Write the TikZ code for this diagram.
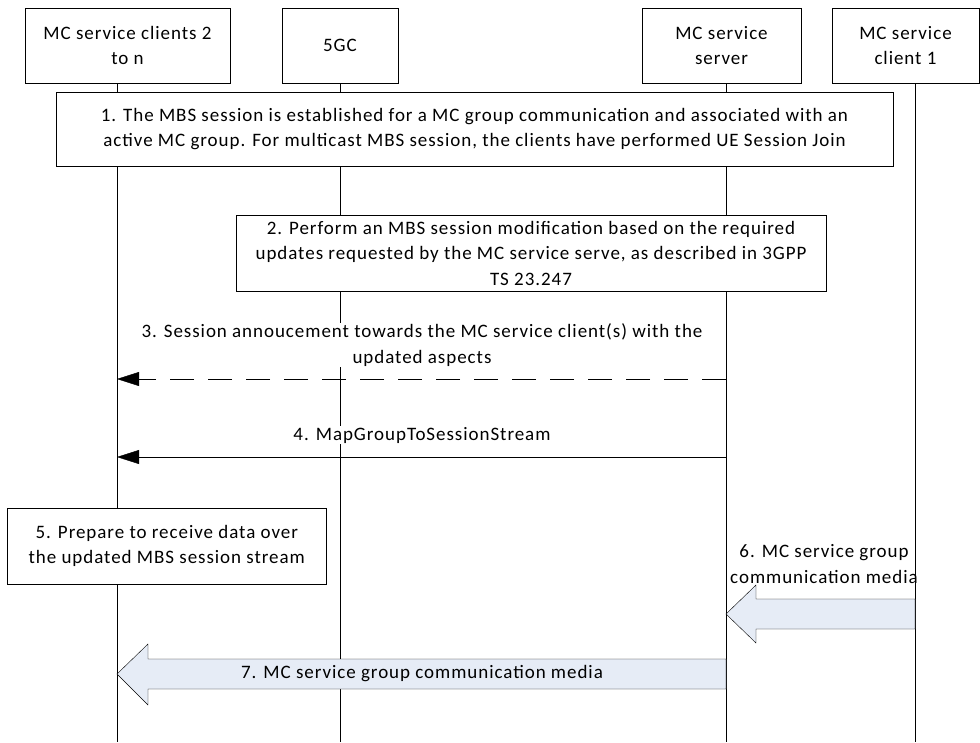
\documentclass[tikz,border=0pt]{standalone}
\usepackage{fontspec}
\setmainfont{Carlito}[LetterSpace=5]
\usetikzlibrary{arrows.meta,positioning}
\definecolor{mediablue}{RGB}{230,236,246}

\begin{document}
\begin{tikzpicture}[x=1pt,y=-1pt,>={Triangle[length=22pt,width=14pt]},
  every node/.style={font=\fontsize{19}{25.5}\selectfont},
  head/.style={draw,fill=white,align=center,minimum height=75pt,inner sep=0pt},
  stepbox/.style={draw,fill=white,align=center,inner sep=0pt},
  msg/.style={fill=white,align=center,inner sep=1pt},
  media/.style={draw,fill=mediablue}]
\useasboundingbox (0,0) rectangle (980,742);
% participants
\node[head,minimum width=205pt] (c2n) at (127.5,45.5) {MC service clients 2\\to n};
\node[head,minimum width=116pt] (fgc) at (340,45.5) {5GC};
\node[head,minimum width=159pt] (srv) at (721.5,45.5) {MC service\\server};
\node[head,minimum width=147pt] (cl1) at (905.5,45.5) {MC service\\client 1};
% lifelines
\coordinate (c2nend) at (117,742);
\coordinate (fgcend) at (340,742);
\coordinate (srvend) at (726,742);
\coordinate (cl1end) at (915,742);
\draw (c2n.south -| c2nend) -- (c2nend);
\draw (fgc.south -| fgcend) -- (fgcend);
\draw (srv.south -| srvend) -- (srvend);
\draw (cl1.south -| cl1end) -- (cl1end);
% steps
\node[stepbox,minimum width=837pt,minimum height=74pt] (s1) at (474.5,129)
  {1. The MBS session is established for a MC group communication and associated with an\\active MC group. For multicast MBS session, the clients have performed UE Session Join};
\node[stepbox,minimum width=590pt,minimum height=76pt] (s2) at (531,253)
  {2. Perform an MBS session modification based on the required\\updates requested by the MC service serve, as described in 3GPP\\TS 23.247};
\node[stepbox,minimum width=318.5pt,minimum height=76pt] (s5) at (166.75,546)
  {5. Prepare to receive data over\\the updated MBS session stream};
% messages
\coordinate (s3) at (srvend |- 0,379);
\coordinate (c3) at (c2nend |- 0,379);
\node[msg] (m3) at (422,345) {3. Session annoucement towards the MC service client(s) with the\\updated aspects};
\draw[->,dash pattern=on 24pt off 14pt] (s3) -- (c3);
\coordinate (s4) at (srvend |- 0,457);
\coordinate (c4) at (c2nend |- 0,457);
\node[msg] (m4) at (422,435) {4. MapGroupToSessionStream};
\draw[->] (s4) -- (c4);
% media
\draw[media] (cl1end |- 0,599) -- (756,599) -- (756,585) -- (srvend |- 0,614)
  -- (756,643) -- (756,629) -- (cl1end |- 0,629) -- cycle;
\node[align=center] (m6) at (824,564) {6. MC service group\\communication media};
\draw[media] (srvend |- 0,659) -- (148,659) -- (148,644) -- (c2nend |- 0,674)
  -- (148,705) -- (148,689) -- (srvend |- 0,689) -- cycle;
\node (m7) at (422,674) {7. MC service group communication media};
\end{tikzpicture}
\end{document}
